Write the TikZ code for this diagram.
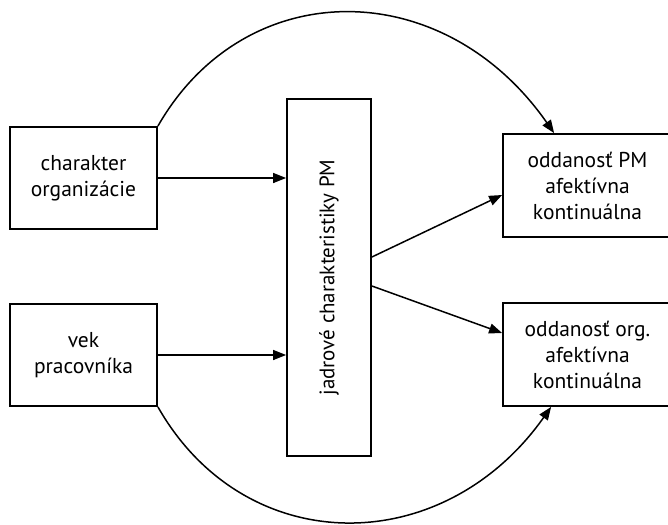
\documentclass[tikz,border=0pt]{standalone}
\usepackage{fontspec}
\setmainfont{PT Sans}
\usetikzlibrary{arrows.meta,calc}
\begin{document}
\begin{tikzpicture}[x=1pt,y=-1pt,
  box/.style={draw, line width=1.8pt, rectangle, inner sep=0pt, align=center,
    font=\fontsize{21.5}{26}\selectfont},
  txt/.style={inner sep=0pt, align=center, font=\fontsize{21.5}{26}\selectfont},
  lbl/.style={inner sep=0pt, font=\fontsize{21}{26}\selectfont},
  conn/.style={line width=1.5pt, -{Triangle[length=13pt,width=10pt]}}]
\useasboundingbox (0,0) rectangle (668,524);
\clip (0,0) rectangle (668,524);
\node[box, minimum width=147pt, minimum height=102pt] (A) at (83.5,178) {charakter\\organizácie};
\node[box, minimum width=147pt, minimum height=102pt] (B) at (83.5,355) {vek\\pracovníka};
\node[box, minimum width=84pt, minimum height=357pt] (M) at (329,277.5) {};
\node[lbl, rotate=90] (Ml) at (M.center) {jadrové charakteristiky PM};
\node[box, minimum width=200pt, minimum height=103pt] (C) at (603,185.5) {};
\node[txt] (Ct) at (587.5,185.5) {oddanosť PM\\afektívna\\kontinuálna};
\node[box, minimum width=200pt, minimum height=103pt] (D) at (603,354.5) {};
\node[txt] (Dt) at (587.5,354.5) {oddanosť org.\\afektívna\\kontinuálna};
\coordinate (m1) at ($(M.east)+(0,-20.5)$);
\coordinate (m2) at ($(M.east)+(0,8.5)$);
\coordinate (c1) at ($(C.west)+(0,9.5)$);
\coordinate (d1) at ($(D.west)+(0,-21.5)$);
\coordinate (ctop) at ($(C.north west)+(52,0)$);
\coordinate (dbot) at ($(D.south west)+(49,0)$);
\draw[conn] (A.east) -- (A.east -| M.west);
\draw[conn] (B.east) -- (B.east -| M.west);
\draw[conn] (m1) -- (c1);
\draw[conn] (m2) -- (d1);
\draw[conn] (A.north east) .. controls (245,-26) and (443,-26) .. (ctop);
\draw[conn] (B.south east) .. controls (245,560) and (443,560) .. (dbot);
\end{tikzpicture}
\end{document}
